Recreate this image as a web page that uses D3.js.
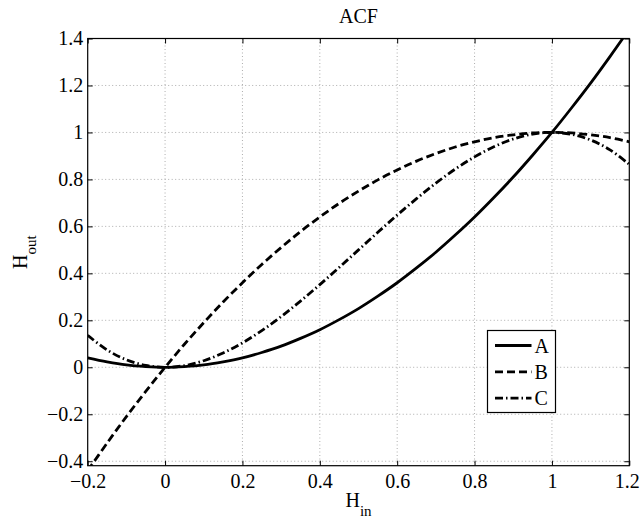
<!DOCTYPE html>
<html>
<head>
<meta charset="utf-8">
<script src="https://cdn.jsdelivr.net/npm/d3@7"></script>
<style>
  body { margin: 0; background: #fff; }
  svg text { font-family: "Liberation Serif", "DejaVu Serif", serif; fill: #000; }
</style>
</head>
<body>
<svg id="chart"></svg>
<script>
// values
const hIn = [-0.2, -0.15, -0.1, -0.05, 0, 0.05, 0.1, 0.15, 0.2, 0.25, 0.3, 0.35, 0.4, 0.45, 0.5,
    0.55, 0.6, 0.65, 0.7, 0.75, 0.8, 0.85, 0.9, 0.95, 1.0, 1.05, 1.1, 1.15, 1.2];
const seriesA = [0.04, 0.023, 0.01, 0.003, 0, 0.003, 0.01, 0.023, 0.04, 0.063, 0.09, 0.123, 0.16, 0.203, 0.25,
    0.303, 0.36, 0.423, 0.49, 0.563, 0.64, 0.723, 0.81, 0.903, 1.0, 1.103, 1.21, 1.323, 1.44];
const seriesB = [-0.44, -0.323, -0.21, -0.103, 0, 0.098, 0.19, 0.278, 0.36, 0.438, 0.51, 0.578, 0.64, 0.698, 0.75,
    0.798, 0.84, 0.878, 0.91, 0.938, 0.96, 0.978, 0.99, 0.998, 1.0, 0.998, 0.99, 0.978, 0.96];
const seriesC = [0.136, 0.074, 0.032, 0.008, 0, 0.007, 0.028, 0.061, 0.104, 0.156, 0.216, 0.282, 0.352, 0.425, 0.5,
    0.575, 0.648, 0.718, 0.784, 0.844, 0.896, 0.939, 0.972, 0.993, 1.0, 0.992, 0.968, 0.926, 0.864];
const seriesNames = ['A', 'B', 'C'];
const xTicks = [-0.2, 0, 0.2, 0.4, 0.6, 0.8, 1, 1.2];
const yTicks = [-0.4, -0.2, 0, 0.2, 0.4, 0.6, 0.8, 1, 1.2, 1.4];

const width = 640;
const height = 519;
const margin = { top: 38.5, right: 10.7, bottom: 53.3, left: 87.7 };
const innerW = width - margin.left - margin.right;
const innerH = height - margin.top - margin.bottom;

const serif = '"Liberation Serif", "DejaVu Serif", serif';
const dashes = ['none', '8,4', '8,3,1.5,3'];

const svg = d3.select('#chart')
    .attr('width', width)
    .attr('height', height);

const xScale = d3.scaleLinear().domain([-0.2, 1.2]).range([0, innerW]);
const yScale = d3.scaleLinear().domain([-0.419, 1.4]).range([innerH, 0]);

const g = svg.append('g')
    .attr('transform', `translate(${margin.left}, ${margin.top})`);

g.append('clipPath')
    .attr('id', 'plot-clip')
    .append('rect')
    .attr('width', innerW)
    .attr('height', innerH);

// grid
g.append('g')
    .selectAll('line')
    .data(xTicks.slice(1, -1))
    .enter()
    .append('line')
    .attr('x1', (d) => xScale(d))
    .attr('x2', (d) => xScale(d))
    .attr('y1', 0)
    .attr('y2', innerH)
    .attr('stroke', '#999')
    .attr('stroke-width', 0.8)
    .attr('stroke-dasharray', '1,2.5');

g.append('g')
    .selectAll('line')
    .data(yTicks.filter((d) => d < 1.4))
    .enter()
    .append('line')
    .attr('x1', 0)
    .attr('x2', innerW)
    .attr('y1', (d) => yScale(d))
    .attr('y2', (d) => yScale(d))
    .attr('stroke', '#999')
    .attr('stroke-width', 0.8)
    .attr('stroke-dasharray', '1,2.5');

// axes, ticks pointing inward
const fmt = (d) => (d < 0 ? '\u2212' + Math.abs(d) : String(d));

const xAxisG = g.append('g')
    .attr('transform', `translate(0, ${innerH})`)
    .call(d3.axisBottom(xScale).tickValues(xTicks).tickSize(-5).tickPadding(8).tickFormat(fmt));
g.append('g')
    .call(d3.axisLeft(yScale).tickValues(yTicks).tickSize(-5).tickPadding(4.5).tickFormat(fmt));
g.append('g')
    .call(d3.axisTop(xScale).tickValues(xTicks).tickSize(-5).tickFormat(''));
g.append('g')
    .attr('transform', `translate(${innerW}, 0)`)
    .call(d3.axisRight(yScale).tickValues(yTicks).tickSize(-5).tickFormat(''));

g.selectAll('.domain').remove();
g.selectAll('.tick line').attr('stroke', '#000').attr('stroke-width', 1);
g.selectAll('.tick text')
    .attr('font-family', null)
    .style('font-family', serif)
    .style('font-size', '20px')
    .style('fill', '#000');

// last x label sits right at the page edge; keep it inside
xAxisG.selectAll('.tick text')
    .filter((d) => d === 1.2)
    .attr('text-anchor', 'end')
    .attr('x', 10);

// curves
const series = [seriesA, seriesB, seriesC];
const line = d3.line()
    .x((d) => xScale(d[0]))
    .y((d) => yScale(d[1]))
    .curve(d3.curveCatmullRom);

g.append('g')
    .attr('clip-path', 'url(#plot-clip)')
    .selectAll('path')
    .data(series)
    .enter()
    .append('path')
    .attr('d', (s) => line(s.map((v, i) => [hIn[i], v])))
    .attr('fill', 'none')
    .attr('stroke', '#000')
    .attr('stroke-width', 2.8)
    .attr('stroke-dasharray', (s, i) => dashes[i]);

// box
g.append('rect')
    .attr('width', innerW)
    .attr('height', innerH)
    .attr('fill', 'none')
    .attr('stroke', '#000')
    .attr('stroke-width', 1.2);

// legend
const legend = svg.append('g')
    .attr('transform', 'translate(487.5, 330.5)');
legend.append('rect')
    .attr('width', 68)
    .attr('height', 82)
    .attr('fill', '#fff')
    .attr('stroke', '#000')
    .attr('stroke-width', 1.2);
const entries = legend.selectAll('.entry')
    .data(seriesNames)
    .enter()
    .append('g')
    .attr('transform', (d, i) => `translate(0, ${15 + i * 26.3})`);
entries.append('line')
    .attr('x1', 7.5)
    .attr('x2', 44)
    .attr('stroke', '#000')
    .attr('stroke-width', 2.8)
    .attr('stroke-dasharray', (d, i) => dashes[i]);
entries.append('text')
    .attr('x', 47)
    .attr('y', 7)
    .style('font-family', serif)
    .style('font-size', '20px')
    .text((d) => d);

// title and axis labels
svg.append('text')
    .attr('x', margin.left + innerW / 2)
    .attr('y', 23)
    .attr('text-anchor', 'middle')
    .style('font-family', serif)
    .style('font-size', '20px')
    .text('ACF');

const xl = svg.append('text')
    .attr('x', margin.left + innerW / 2)
    .attr('y', 507)
    .attr('text-anchor', 'middle')
    .style('font-family', serif)
    .style('font-size', '20px');
xl.append('tspan').text('H');
xl.append('tspan').attr('dy', 9).style('font-size', '15px').text('in');

const yl = svg.append('text')
    .attr('transform', `translate(27, ${margin.top + innerH / 2}) rotate(-90)`)
    .attr('text-anchor', 'middle')
    .style('font-family', serif)
    .style('font-size', '20px');
yl.append('tspan').text('H');
yl.append('tspan').attr('dy', 9).style('font-size', '15px').text('out');
</script>
</body>
</html>
